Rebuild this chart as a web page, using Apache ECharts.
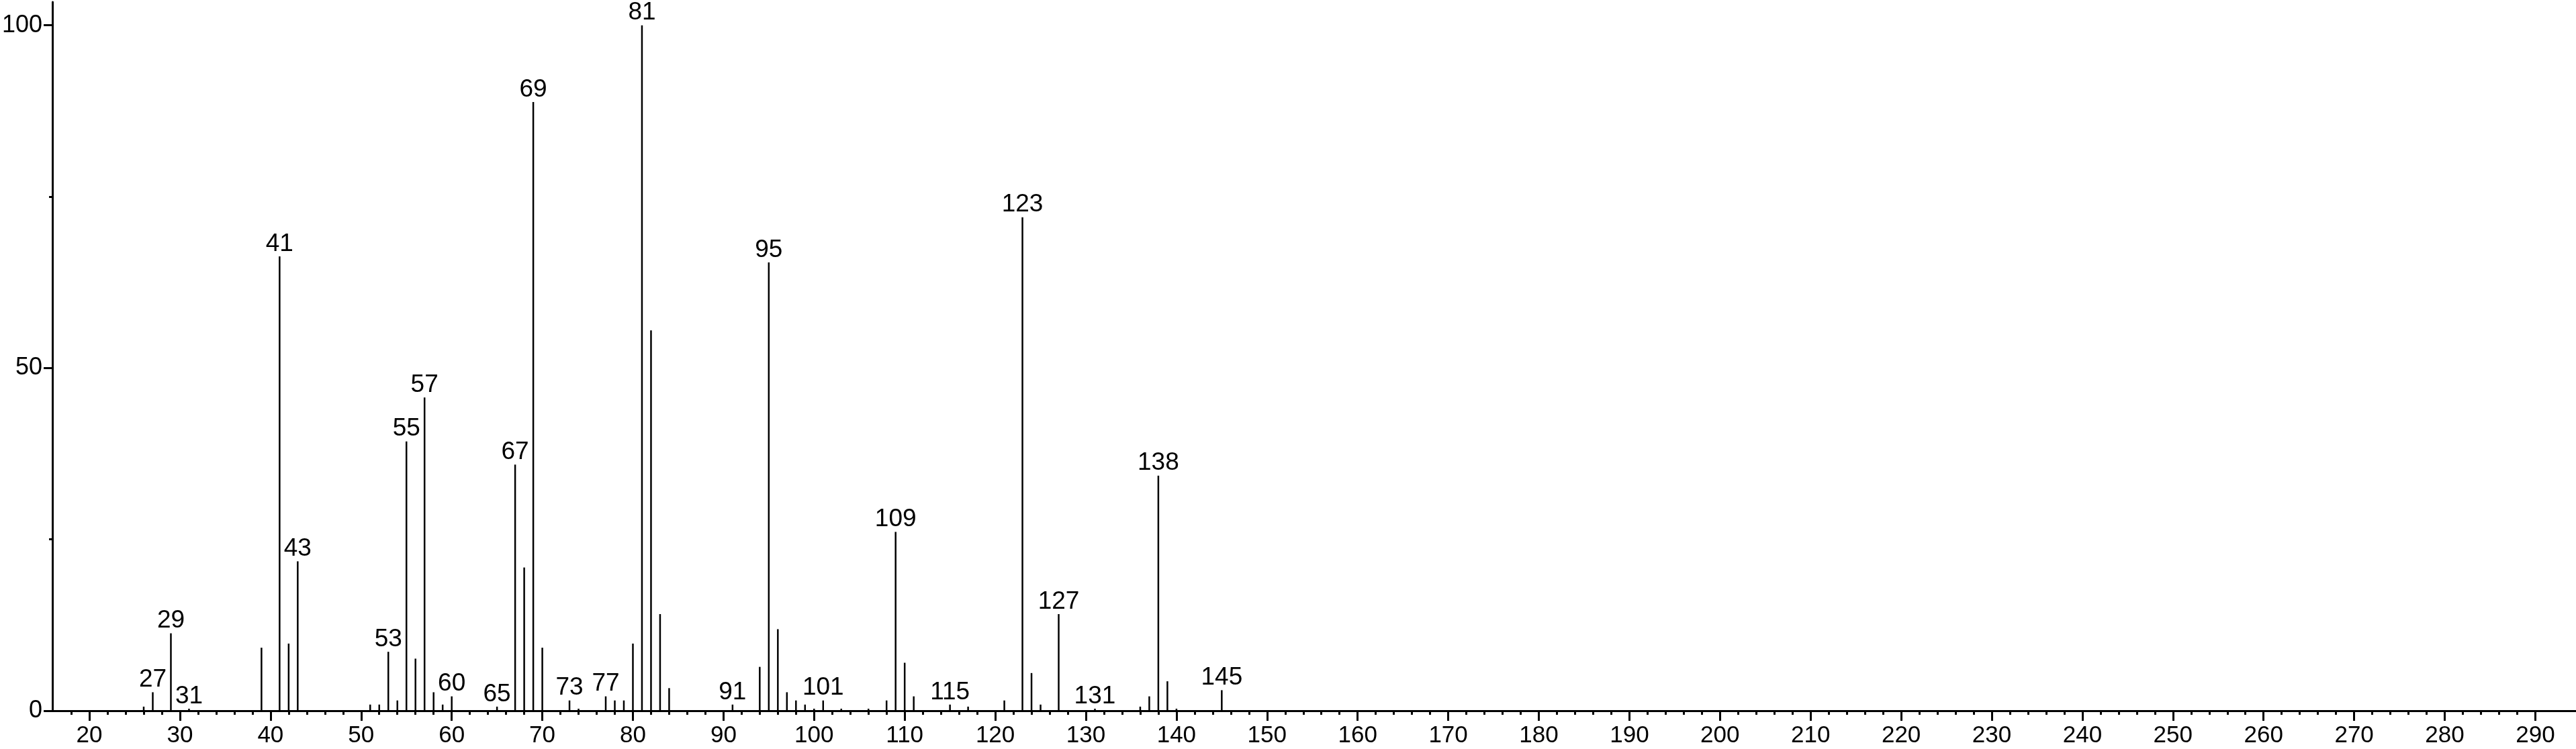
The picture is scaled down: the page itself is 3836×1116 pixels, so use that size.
<!DOCTYPE html>
<html>
<head>
<meta charset="utf-8">
<title>Mass spectrum</title>
<script src="https://cdn.jsdelivr.net/npm/echarts@6/dist/echarts.min.js"></script>
<style>
  html, body { margin: 0; padding: 0; background: #ffffff; }
  #main { width: 3836px; height: 1116px; }
</style>
</head>
<body>
<div id="main"></div>
<script>
// m/z of every line in the spectrum
const mzValues = [
  26, 27, 29, 31, 39, 41, 42, 43, 51, 52, 53, 54, 55, 56, 57, 58, 59, 60,
  65, 67, 68, 69, 70, 73, 74, 77, 78, 79, 80, 81, 82, 83, 84, 91, 94, 95,
  96, 97, 98, 99, 100, 101, 103, 106, 108, 109, 110, 111, 115, 117, 121,
  123, 124, 125, 127, 131, 136, 137, 138, 139, 140, 145
]
// relative intensity (%) for each m/z above
const intensities = [
  0.6, 2.7, 11.3, 0.3, 9.2, 66.3, 9.8, 21.8, 0.9, 0.9, 8.6, 1.5, 39.3, 7.6, 45.7, 2.7, 0.9, 2.1,
  0.6, 35.9, 20.9, 88.8, 9.2, 1.5, 0.3, 2.1, 1.5, 1.5, 9.8, 100, 55.5, 14.1, 3.3, 0.9, 6.4, 65.4,
  11.9, 2.7, 1.5, 0.9, 0.3, 1.5, 0.3, 0.3, 1.5, 26.1, 7.0, 2.1, 0.9, 0.6, 1.5,
  72.0, 5.5, 0.9, 14.1, 0.3, 0.6, 2.1, 34.3, 4.3, 0.3, 3.0
]
// peaks that carry a number above them
const labeledPeaks = [
  27, 29, 31, 41, 43, 53, 55, 57, 60, 65, 67, 69, 73, 77, 81, 91, 95,
  101, 109, 115, 123, 127, 131, 138, 145
]
// axis ticks
const xMajorTicks = [
  20, 30, 40, 50, 60, 70, 80, 90, 100, 110, 120, 130, 140, 150, 160, 170,
  180, 190, 200, 210, 220, 230, 240, 250, 260, 270, 280, 290
]
const yMajorTicks = [0, 50, 100]
const yMinorTicks = [25, 75]

// minor x ticks every 2 units (skipping the labelled ones)
const xMinorTicks = []
for (let v = 18; v <= 290; v += 2) {
  if (v % 10 !== 0) xMinorTicks.push(v)
}

const labelFont = "'Liberation Sans Narrow', 'Liberation Sans', Arial, sans-serif"
const tickFont = "'Liberation Sans', Arial, sans-serif"

const barData = mzValues.map((mz, i) => {
  return {
    value: [mz, intensities[i]],
    label: { show: labeledPeaks.includes(mz) },
  }
})

const chart = echarts.init(document.getElementById('main'))
chart.setOption({
  animation: false,
  backgroundColor: '#ffffff',
  grid: {
    left: 59,
    right: 0,
    top: 3,
    bottom: 57,
  },
  xAxis: [
    {
      type: 'value',
      min: 15.13,
      max: 294.49,
      position: 'bottom',
      splitLine: { show: false },
      axisLine: {
        show: true,
        onZero: false,
        lineStyle: { color: '#000000', width: 3 },
      },
      axisTick: {
        show: true,
        customValues: xMajorTicks,
        length: 15,
        lineStyle: { color: '#000000', width: 3 },
      },
      axisLabel: {
        customValues: xMajorTicks,
        margin: 20,
        color: '#000000',
        fontSize: 35,
        fontFamily: tickFont,
      },
    },
    {
      type: 'value',
      min: 15.13,
      max: 294.49,
      position: 'bottom',
      splitLine: { show: false },
      axisLine: { show: false, onZero: false },
      axisTick: {
        show: true,
        customValues: xMinorTicks,
        length: 6,
        lineStyle: { color: '#000000', width: 3 },
      },
      axisLabel: { show: false },
    },
  ],
  yAxis: [
    {
      type: 'value',
      min: 0,
      max: 103.4,
      position: 'left',
      offset: -10.7,
      splitLine: { show: false },
      axisLine: {
        show: true,
        onZero: false,
        lineStyle: { color: '#000000', width: 3 },
      },
      axisTick: {
        show: true,
        customValues: yMajorTicks,
        length: 13,
        lineStyle: { color: '#000000', width: 3 },
      },
      axisLabel: {
        customValues: yMajorTicks,
        margin: 15,
        color: '#000000',
        fontSize: 36,
        fontFamily: labelFont,
      },
    },
    {
      type: 'value',
      min: 0,
      max: 103.4,
      position: 'left',
      offset: -10.7,
      splitLine: { show: false },
      axisLine: { show: false, onZero: false },
      axisTick: {
        show: true,
        customValues: yMinorTicks,
        length: 5,
        lineStyle: { color: '#000000', width: 3 },
      },
      axisLabel: { show: false },
    },
  ],
  series: [
    {
      type: 'bar',
      xAxisIndex: 0,
      yAxisIndex: 0,
      barWidth: 2.5,
      itemStyle: { color: '#000000' },
      label: {
        position: 'top',
        distance: 0,
        color: '#000000',
        fontSize: 37,
        fontFamily: labelFont,
        formatter: (p) => String(p.value[0]),
      },
      data: barData,
    },
  ],
})
</script>
</body>
</html>
